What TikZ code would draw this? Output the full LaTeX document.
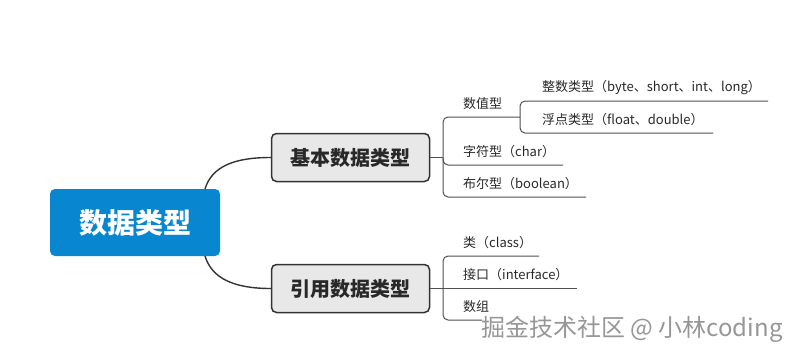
\documentclass[tikz,border=0pt]{standalone}
\usepackage{fontspec}
\setmainfont{Noto Sans CJK SC}
\begin{document}
\begin{tikzpicture}[x=1pt,y=-1pt,
  rootbox/.style={draw=none,fill=rootblue,rounded corners=5pt,minimum width=170pt,minimum height=67pt,text=white,font=\fontsize{28}{30}\selectfont\bfseries,inner sep=0pt},
  mainbox/.style={draw=linedark,line width=1.5pt,fill=boxgray,rounded corners=5pt,minimum width=158pt,minimum height=48pt,text=textdark,font=\fontsize{20}{22}\selectfont\bfseries,inner sep=0pt},
  leaf/.style={anchor=west,inner sep=0pt,text=textdark,font=\fontsize{13}{15}\selectfont},
  conn/.style={draw=linedark,line width=1.4pt},
  branch/.style={draw=linegray,line width=1pt,rounded corners=5pt},
  wm/.style={anchor=west,inner sep=0pt,text=wmgray,font=\fontsize{24}{26}\selectfont}
]
\definecolor{rootblue}{RGB}{8,134,208}
\definecolor{boxgray}{RGB}{232,232,232}
\definecolor{linedark}{RGB}{51,51,51}
\definecolor{linegray}{RGB}{80,80,80}
\definecolor{textdark}{RGB}{40,40,40}
\definecolor{wmgray}{RGB}{150,150,150}
\useasboundingbox (0,0) rectangle (805,359);

\node[rootbox] (root) at (135,222.5) {数据类型};
\node[mainbox] (basic) at (350.5,157.5) {基本数据类型};
\node[mainbox] (ref) at (350.5,288.5) {引用数据类型};

\coordinate (r1) at (205,189);
\coordinate (r2) at (205,256);
\draw[conn] (r1) .. controls (212,166) and (235,157.5) .. (basic.west);
\draw[conn] (r2) .. controls (212,279) and (235,288.5) .. (ref.west);

% basic branch
\coordinate (j1) at (443,157.5);
\draw[branch] (basic.east) -- (j1);
\coordinate (j2) at (520,117);
\coordinate (e1) at (520,117);
\coordinate (e2) at (563,165);
\coordinate (e3) at (586,197);
\draw[branch] (j1) -- (443,117) -- (e1);
\draw[branch] (j1) -- (443,165) -- (e2);
\draw[branch] (j1) -- (443,197) -- (e3);
\coordinate (e4) at (768,101);
\coordinate (e5) at (713,133);
\draw[branch] (j2) -- (520,101) -- (e4);
\draw[branch] (j2) -- (520,133) -- (e5);

\node[leaf] (n1) at (463,103.5) {数值型};
\node[leaf] (n2) at (463,151.5) {字符型（char）};
\node[leaf] (n3) at (463,183.5) {布尔型（boolean）};
\node[leaf] (n4) at (542,87.5) {整数类型（byte、short、int、long）};
\node[leaf] (n5) at (542,119.5) {浮点类型（float、double）};

% reference branch
\coordinate (j3) at (443,288.5);
\coordinate (f1) at (539,256);
\coordinate (f2) at (577,288.5);
\coordinate (f3) at (482,320);
\draw[branch] (ref.east) -- (f2);
\draw[branch] (j3) -- (443,256) -- (f1);
\draw[branch] (j3) -- (443,320) -- (f3);
\node[leaf] (m1) at (463,242.5) {类（class）};
\node[leaf] (m2) at (463,275) {接口（interface）};
\node[leaf] (m3) at (463,306.5) {数组};

\node[wm] (wm) at (481,329) {掘金技术社区 @ 小林coding};
\end{tikzpicture}
\end{document}
